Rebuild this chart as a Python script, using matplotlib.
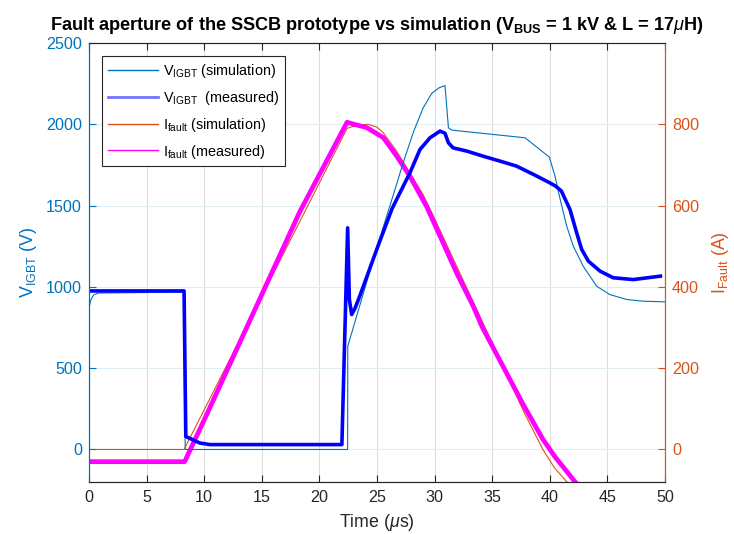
import matplotlib
matplotlib.use("Agg")
import matplotlib.pyplot as plt

plt.rcParams['font.family'] = ['Liberation Sans', 'DejaVu Sans']
plt.rcParams['mathtext.fontset'] = 'custom'
plt.rcParams['mathtext.rm'] = 'Liberation Sans'
plt.rcParams['mathtext.it'] = 'Liberation Sans:italic'
plt.rcParams['mathtext.bf'] = 'Liberation Sans:bold'
plt.rcParams['mathtext.default'] = 'regular'

# ---------------- data (time in microseconds) ----------------
t_vsim = [0, 0.15, 0.4, 0.8, 8.2, 8.35, 22.45, 22.46, 25.0, 26.3, 27.3, 28.2, 29.0,
          29.75, 30.4, 30.9, 31.0, 31.2, 31.5, 37.85, 39.96, 40.45, 40.9, 41.47,
          42.04, 42.9, 44.07, 45.2, 46.7, 48.1, 50.0]
v_sim = [870, 920, 950, 962, 968, 0, 0, 635, 1245, 1540, 1770, 1960, 2100,
         2190, 2225, 2238, 2152, 1978, 1964, 1917, 1798, 1681, 1538, 1373,
         1250, 1127, 1004, 953, 922, 912, 908]

t_vmeas = [0, 8.25, 8.4, 9.0, 9.6, 10.5, 21.95, 22.45, 22.6, 22.8, 23.1, 23.5, 25.0,
           26.3, 27.0, 27.86, 28.73, 29.6, 30.47, 30.9, 31.2, 31.6, 32.8, 34.2,
           35.7, 37.1, 38.6, 40.0, 40.5, 41.0, 41.75, 42.33, 42.77, 43.35, 44.36,
           45.5, 47.25, 49.6]
v_meas = [975, 975, 80, 60, 40, 30, 30, 1363, 922, 830, 870, 943, 1235,
          1480, 1580, 1702, 1845, 1917, 1958, 1945, 1886, 1855, 1835, 1804,
          1773, 1743, 1691, 1640, 1620, 1590, 1476, 1333, 1230, 1158, 1097,
          1056, 1045, 1066]

t_isim = [0, 8.25, 22.4, 23.3, 24.2, 25.0, 25.55, 26.7, 27.86, 29.0, 29.9, 31.5,
          33.5, 35.5, 37.7, 39.4, 40.4, 41.3, 42.0]
i_sim = [0, 0, 790, 798, 800, 793, 779, 734, 680, 627, 574, 476,
         354, 232, 95, 0, -45, -74, -95]

t_imeas = [0, 8.3, 10.2, 18.3, 22.4, 23.0, 24.1, 25.55, 26.7, 27.86, 29.3, 30.47,
           31.9, 33.36, 34.1, 37.7, 39.4, 40.5, 41.5, 42.2, 43.0]
i_meas = [-30, -30, 85, 585, 805, 800, 792, 767, 722, 672, 598, 525,
          435, 352, 303, 110, 25, -20, -55, -80, -100]

x_ticks = [0, 5, 10, 15, 20, 25, 30, 35, 40, 45, 50]
v_ticks = [0, 500, 1000, 1500, 2000, 2500]
i_ticks = [0, 200, 400, 600, 800]

# ---------------- style ----------------
C_VSIM = (0.0, 0.447, 0.741)
C_VMEAS = (0.0, 0.0, 1.0)
C_ISIM = (0.85, 0.325, 0.098)
C_IMEAS = (1.0, 0.0, 1.0)
C_AX = (0.15, 0.15, 0.15)
TICK_FS = 11.6
LAB_FS = 12.8

fig = plt.figure(figsize=(7.34, 5.34), dpi=100)
ax1 = fig.add_axes([0.1213, 0.0974, 0.7847, 0.8221])
ax2 = ax1.twinx()
ax2.set_zorder(1)
ax1.set_zorder(2)
ax1.patch.set_visible(False)
ax2.patch.set_visible(True)
ax2.patch.set_facecolor('white')

# current (right axis)
l3, = ax2.plot(t_isim, i_sim, color=C_ISIM, lw=0.8)
l4, = ax2.plot(t_imeas, i_meas, color=C_IMEAS, lw=3.4)
# voltage (left axis)
l1, = ax1.plot(t_vsim, v_sim, color=C_VSIM, lw=0.8)
l2, = ax1.plot(t_vmeas, v_meas, color=C_VMEAS, lw=2.6)

ax1.set_xlim(0, 50)
ax1.set_ylim(-200, 2500)
ax2.set_ylim(-80, 1000)
ax1.set_xticks(x_ticks)
ax1.set_yticks(v_ticks)
ax2.set_yticks(i_ticks)

# grid on the bottom axes so it sits below all curves
ax2.xaxis.set_visible(True)
ax2.set_xticks(x_ticks)
ax2.tick_params(axis='x', bottom=False, top=False, labelbottom=False, labeltop=False)
ax2.grid(axis='x', color=(0.87, 0.87, 0.87), lw=0.8)
ax2.grid(axis='y', color=(0.88, 0.93, 0.96), lw=0.8)

ax1.tick_params(axis='x', direction='in', top=True, bottom=True, length=5,
                width=0.8, colors=C_AX, labelsize=TICK_FS, pad=6)
ax1.tick_params(axis='y', direction='in', left=True, right=False, length=5,
                width=0.8, colors=C_VSIM, labelsize=TICK_FS, pad=5)
ax2.tick_params(axis='y', direction='in', right=True, left=False, length=5,
                width=0.8, colors=C_ISIM, labelsize=TICK_FS, pad=5)

for ax in (ax1, ax2):
    ax.spines['top'].set_color(C_AX)
    ax.spines['bottom'].set_color(C_AX)
    ax.spines['left'].set_color(C_VSIM)
    ax.spines['right'].set_color(C_ISIM)
    for s in ax.spines.values():
        s.set_linewidth(0.8)

ax1.set_xlabel(r'Time ($\mathit{\mu}$s)', fontsize=LAB_FS, color=C_AX, labelpad=5)
ax1.set_ylabel(r'V$_{IGBT}$ (V)', fontsize=LAB_FS, color=C_VSIM, labelpad=5)
ax2.set_ylabel(r'I$_{Fault}$ (A)', fontsize=LAB_FS, color=C_ISIM, labelpad=8)

ax1.set_title(r'Fault aperture of the SSCB prototype vs simulation (V$_{\mathbf{BUS}}$ = 1 kV & L = 17$\mathit{\mu}$H)',
              fontsize=13.1, fontweight='bold', color='black', pad=9)

leg = ax1.legend([l1, l2, l3, l4],
                 [r'V$_{IGBT}$ (simulation)', r'V$_{IGBT}$  (measured)',
                  r'I$_{fault}$ (simulation)', r'I$_{fault}$ (measured)'],
                 loc='upper left', bbox_to_anchor=(0.0226, 0.970), borderaxespad=0,
                 fontsize=10.4, frameon=True, fancybox=False, framealpha=1,
                 edgecolor=C_AX, handlelength=3.5, handletextpad=0.35,
                 labelspacing=0.62, borderpad=0.38)
leg.get_frame().set_linewidth(0.8)
for h in leg.legend_handles:
    h.set_linewidth(1.0)
leg.legend_handles[1].set_linewidth(2.0)
leg.legend_handles[1].set_alpha(0.55)

fig.savefig('out.png', dpi=100)
